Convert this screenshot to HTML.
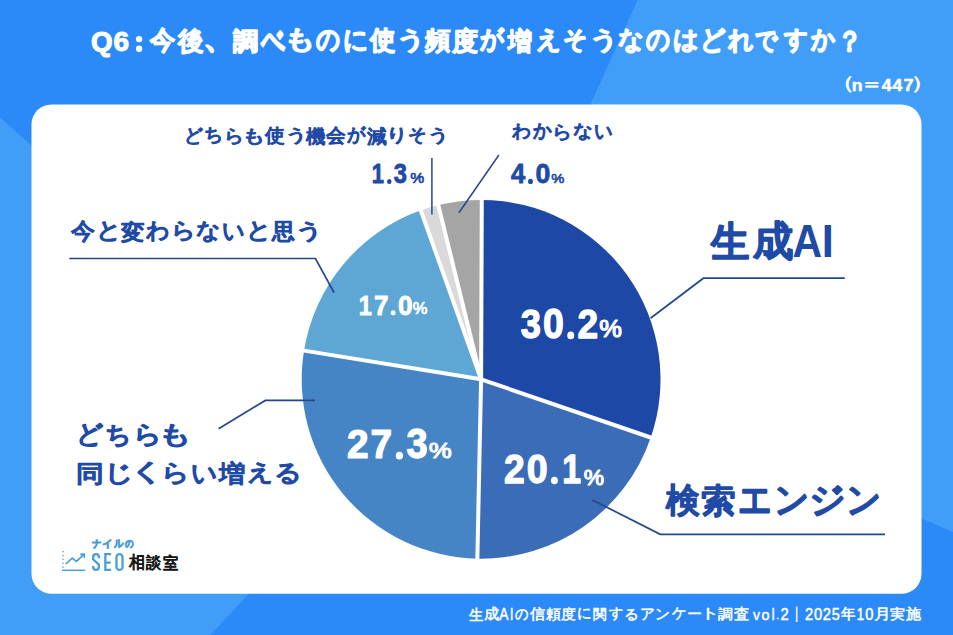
<!DOCTYPE html>
<html><head><meta charset="utf-8">
<style>
html,body{margin:0;padding:0;width:953px;height:635px;overflow:hidden;background:#409ef9;}
svg{display:block;font-family:"Liberation Sans",sans-serif;}
</style></head><body>
<svg width="953" height="635" viewBox="0 0 953 635">
<rect x="0" y="0" width="953" height="635" fill="#409ef9"/>
<polygon points="0,0 637.5,0 417.4,489 0,117.5" fill="#2c8af8"/>
<polygon points="492.5,332.5 953,531.9 953,635 210.2,635" fill="#2c8af8"/>
<rect x="31.5" y="104.5" width="890" height="489.3" rx="20" ry="20" fill="#fff"/>
<path d="M481.1,379.3 L481.79,199.90 A179.4,179.4 0 0 1 650.79,437.53 Z" fill="#1e48a6"/>
<path d="M481.1,379.3 L650.79,437.53 A179.4,179.4 0 0 1 477.34,558.66 Z" fill="#3b6cb8"/>
<path d="M481.1,379.3 L477.34,558.66 A179.4,179.4 0 0 1 304.01,350.62 Z" fill="#4685c5"/>
<path d="M481.1,379.3 L304.01,350.62 A179.4,179.4 0 0 1 420.77,210.35 Z" fill="#5ea6d4"/>
<path d="M481.1,379.3 L420.77,210.35 A179.4,179.4 0 0 1 438.31,205.08 Z" fill="#d9d9d9"/>
<path d="M481.1,379.3 L438.31,205.08 A179.4,179.4 0 0 1 481.79,199.90 Z" fill="#a5a5a5"/>
<line x1="481.1" y1="379.3" x2="481.80" y2="196.90" stroke="#fff" stroke-width="4"/>
<line x1="481.1" y1="379.3" x2="653.62" y2="438.50" stroke="#fff" stroke-width="4"/>
<line x1="481.1" y1="379.3" x2="477.28" y2="561.66" stroke="#fff" stroke-width="4"/>
<line x1="481.1" y1="379.3" x2="301.05" y2="350.14" stroke="#fff" stroke-width="4"/>
<line x1="481.1" y1="379.3" x2="419.76" y2="207.52" stroke="#fff" stroke-width="4"/>
<line x1="481.1" y1="379.3" x2="437.59" y2="202.17" stroke="#fff" stroke-width="4"/>
<line x1="431.9" y1="158" x2="431.9" y2="214.4" stroke="#25478f" stroke-width="1.5"/>
<line x1="498.9" y1="155" x2="458.9" y2="212.8" stroke="#25478f" stroke-width="1.5"/>
<polyline points="69.3,258.5 315.5,258.5 334,292.5" fill="none" stroke="#25478f" stroke-width="1.7"/>
<polyline points="844.8,278.2 703.4,278.2 650.5,318.2" fill="none" stroke="#25478f" stroke-width="1.7"/>
<polyline points="218.6,428.7 265.4,400.4 315,400.4" fill="none" stroke="#25478f" stroke-width="1.7"/>
<polyline points="592.4,500 660.3,534.3 885,534.3" fill="none" stroke="#25478f" stroke-width="1.7"/>
<circle cx="139.1" cy="39.1" r="3.2" fill="#fff"/><circle cx="139.1" cy="48.8" r="3.2" fill="#fff"/>
<g id="title_q"><text transform="matrix(0.27671,0,0,0.27155,91.00,50.99)" font-size="100" font-weight="bold" fill="#ffffff" stroke="#ffffff" stroke-width="3.88" stroke-linejoin="round">Q</text><text transform="matrix(0.27877,0,0,0.27313,113.47,51.10)" font-size="100" font-weight="bold" fill="#ffffff" stroke="#ffffff" stroke-width="3.85" stroke-linejoin="round">6</text></g>
<g id="title"><text transform="matrix(0.25681,0,0,0.26373,150.32,49.39)" font-size="100" font-weight="normal" fill="#ffffff" stroke="#ffffff" stroke-width="8.23" stroke-linejoin="round">今</text><text transform="matrix(0.25759,0,0,0.26262,177.90,49.71)" font-size="100" font-weight="normal" fill="#ffffff" stroke="#ffffff" stroke-width="8.23" stroke-linejoin="round">後</text><text transform="matrix(0.33325,0,0,0.33336,202.93,48.38)" font-size="100" font-weight="normal" fill="#ffffff" stroke="#ffffff" stroke-width="6.43" stroke-linejoin="round">、</text><text transform="matrix(0.25066,0,0,0.24847,232.82,50.22)" font-size="100" font-weight="normal" fill="#ffffff" stroke="#ffffff" stroke-width="8.58" stroke-linejoin="round">調</text><text transform="matrix(0.23753,0,0,0.35893,260.74,52.09)" font-size="100" font-weight="normal" fill="#ffffff" stroke="#ffffff" stroke-width="7.18" stroke-linejoin="round">べ</text><text transform="matrix(0.30701,0,0,0.25629,284.09,48.48)" font-size="100" font-weight="normal" fill="#ffffff" stroke="#ffffff" stroke-width="7.60" stroke-linejoin="round">も</text><text transform="matrix(0.23546,0,0,0.27836,315.82,49.49)" font-size="100" font-weight="normal" fill="#ffffff" stroke="#ffffff" stroke-width="8.34" stroke-linejoin="round">の</text><text transform="matrix(0.24802,0,0,0.27097,342.84,48.70)" font-size="100" font-weight="normal" fill="#ffffff" stroke="#ffffff" stroke-width="8.25" stroke-linejoin="round">に</text><text transform="matrix(0.25825,0,0,0.26436,370.29,49.29)" font-size="100" font-weight="normal" fill="#ffffff" stroke="#ffffff" stroke-width="8.20" stroke-linejoin="round">使</text><text transform="matrix(0.29252,0,0,0.23720,396.42,47.80)" font-size="100" font-weight="normal" fill="#ffffff" stroke="#ffffff" stroke-width="8.09" stroke-linejoin="round">う</text><text transform="matrix(0.25588,0,0,0.25239,425.09,49.03)" font-size="100" font-weight="normal" fill="#ffffff" stroke="#ffffff" stroke-width="8.43" stroke-linejoin="round">頻</text><text transform="matrix(0.25935,0,0,0.25715,452.20,50.21)" font-size="100" font-weight="normal" fill="#ffffff" stroke="#ffffff" stroke-width="8.29" stroke-linejoin="round">度</text><text transform="matrix(0.23833,0,0,0.26338,480.46,48.12)" font-size="100" font-weight="normal" fill="#ffffff" stroke="#ffffff" stroke-width="8.54" stroke-linejoin="round">が</text><text transform="matrix(0.24336,0,0,0.25258,508.01,50.08)" font-size="100" font-weight="normal" fill="#ffffff" stroke="#ffffff" stroke-width="8.64" stroke-linejoin="round">増</text><text transform="matrix(0.24849,0,0,0.25131,535.59,48.37)" font-size="100" font-weight="normal" fill="#ffffff" stroke="#ffffff" stroke-width="8.57" stroke-linejoin="round">え</text><text transform="matrix(0.23739,0,0,0.24826,562.85,48.04)" font-size="100" font-weight="normal" fill="#ffffff" stroke="#ffffff" stroke-width="8.82" stroke-linejoin="round">そ</text><text transform="matrix(0.29252,0,0,0.23720,588.74,47.80)" font-size="100" font-weight="normal" fill="#ffffff" stroke="#ffffff" stroke-width="8.09" stroke-linejoin="round">う</text><text transform="matrix(0.25281,0,0,0.24948,617.76,47.84)" font-size="100" font-weight="normal" fill="#ffffff" stroke="#ffffff" stroke-width="8.53" stroke-linejoin="round">な</text><text transform="matrix(0.23546,0,0,0.27836,645.52,49.49)" font-size="100" font-weight="normal" fill="#ffffff" stroke="#ffffff" stroke-width="8.34" stroke-linejoin="round">の</text><text transform="matrix(0.25563,0,0,0.25339,672.94,48.06)" font-size="100" font-weight="normal" fill="#ffffff" stroke="#ffffff" stroke-width="8.41" stroke-linejoin="round">は</text><text transform="matrix(0.25061,0,0,0.27018,699.73,48.85)" font-size="100" font-weight="normal" fill="#ffffff" stroke="#ffffff" stroke-width="8.22" stroke-linejoin="round">ど</text><text transform="matrix(0.24829,0,0,0.25769,727.60,48.57)" font-size="100" font-weight="normal" fill="#ffffff" stroke="#ffffff" stroke-width="8.47" stroke-linejoin="round">れ</text><text transform="matrix(0.22333,0,0,0.25198,755.38,48.73)" font-size="100" font-weight="normal" fill="#ffffff" stroke="#ffffff" stroke-width="9.01" stroke-linejoin="round">で</text><text transform="matrix(0.23140,0,0,0.24622,784.02,48.08)" font-size="100" font-weight="normal" fill="#ffffff" stroke="#ffffff" stroke-width="8.97" stroke-linejoin="round">す</text><text transform="matrix(0.24198,0,0,0.26353,810.50,48.15)" font-size="100" font-weight="normal" fill="#ffffff" stroke="#ffffff" stroke-width="8.47" stroke-linejoin="round">か</text><text transform="matrix(0.25693,0,0,0.28461,836.86,50.77)" font-size="100" font-weight="normal" fill="#ffffff" stroke="#ffffff" stroke-width="7.91" stroke-linejoin="round">？</text></g>
<g id="n447"><text transform="matrix(0.22782,0,0,0.17494,831.32,89.45)" font-size="100" font-weight="normal" fill="#ffffff" stroke="#ffffff" stroke-width="4.09" stroke-linejoin="round">（</text><text transform="matrix(0.17649,0,0,0.16630,851.64,90.95)" font-size="100" font-weight="bold" fill="#ffffff" stroke="#ffffff" stroke-width="2.88" stroke-linejoin="round">n</text><text transform="matrix(0.23793,0,0,0.18195,860.24,90.01)" font-size="100" font-weight="normal" fill="#ffffff" stroke="#ffffff" stroke-width="3.92" stroke-linejoin="round">＝</text><text transform="matrix(0.17701,0,0,0.17015,881.73,90.95)" font-size="100" font-weight="bold" fill="#ffffff" stroke="#ffffff" stroke-width="2.85" stroke-linejoin="round">4</text><text transform="matrix(0.17701,0,0,0.17015,892.61,90.95)" font-size="100" font-weight="bold" fill="#ffffff" stroke="#ffffff" stroke-width="2.85" stroke-linejoin="round">4</text><text transform="matrix(0.18281,0,0,0.17015,903.50,90.95)" font-size="100" font-weight="bold" fill="#ffffff" stroke="#ffffff" stroke-width="2.80" stroke-linejoin="round">7</text><text transform="matrix(0.22782,0,0,0.17494,911.00,89.45)" font-size="100" font-weight="normal" fill="#ffffff" stroke="#ffffff" stroke-width="4.09" stroke-linejoin="round">）</text></g>
<g id="footer"><text transform="matrix(0.14370,0,0,0.15114,468.99,619.51)" font-size="100" font-weight="normal" fill="#ffffff" stroke="#ffffff" stroke-width="3.68" stroke-linejoin="round">生</text><text transform="matrix(0.15112,0,0,0.14866,484.15,619.25)" font-size="100" font-weight="normal" fill="#ffffff" stroke="#ffffff" stroke-width="3.62" stroke-linejoin="round">成</text><text transform="matrix(0.13831,0,0,0.15924,499.35,619.65)" font-size="100" font-weight="normal" fill="#ffffff" stroke="#ffffff" stroke-width="3.12" stroke-linejoin="round">A</text><text transform="matrix(0.11943,0,0,0.15924,509.97,619.65)" font-size="100" font-weight="normal" fill="#ffffff" stroke="#ffffff" stroke-width="3.34" stroke-linejoin="round">I</text><text transform="matrix(0.13757,0,0,0.15466,514.98,618.88)" font-size="100" font-weight="normal" fill="#ffffff" stroke="#ffffff" stroke-width="3.71" stroke-linejoin="round">の</text><text transform="matrix(0.14833,0,0,0.14727,530.23,618.95)" font-size="100" font-weight="normal" fill="#ffffff" stroke="#ffffff" stroke-width="3.67" stroke-linejoin="round">信</text><text transform="matrix(0.15131,0,0,0.14214,545.87,618.62)" font-size="100" font-weight="normal" fill="#ffffff" stroke="#ffffff" stroke-width="3.70" stroke-linejoin="round">頼</text><text transform="matrix(0.15319,0,0,0.14405,561.30,619.30)" font-size="100" font-weight="normal" fill="#ffffff" stroke="#ffffff" stroke-width="3.65" stroke-linejoin="round">度</text><text transform="matrix(0.14614,0,0,0.15178,577.35,618.48)" font-size="100" font-weight="normal" fill="#ffffff" stroke="#ffffff" stroke-width="3.64" stroke-linejoin="round">に</text><text transform="matrix(0.14021,0,0,0.14357,593.41,618.99)" font-size="100" font-weight="normal" fill="#ffffff" stroke="#ffffff" stroke-width="3.82" stroke-linejoin="round">関</text><text transform="matrix(0.13818,0,0,0.13710,609.48,618.05)" font-size="100" font-weight="normal" fill="#ffffff" stroke="#ffffff" stroke-width="3.94" stroke-linejoin="round">す</text><text transform="matrix(0.15118,0,0,0.14373,623.89,618.67)" font-size="100" font-weight="normal" fill="#ffffff" stroke="#ffffff" stroke-width="3.68" stroke-linejoin="round">る</text><text transform="matrix(0.14914,0,0,0.15100,640.01,619.04)" font-size="100" font-weight="normal" fill="#ffffff" stroke="#ffffff" stroke-width="3.61" stroke-linejoin="round">ア</text><text transform="matrix(0.15122,0,0,0.15327,655.48,618.93)" font-size="100" font-weight="normal" fill="#ffffff" stroke="#ffffff" stroke-width="3.56" stroke-linejoin="round">ン</text><text transform="matrix(0.14396,0,0,0.15017,671.63,618.47)" font-size="100" font-weight="normal" fill="#ffffff" stroke="#ffffff" stroke-width="3.69" stroke-linejoin="round">ケ</text><text transform="matrix(0.14712,0,0,0.11770,686.84,618.41)" font-size="100" font-weight="normal" fill="#ffffff" stroke="#ffffff" stroke-width="4.10" stroke-linejoin="round">ー</text><text transform="matrix(0.19929,0,0,0.14380,699.93,618.38)" font-size="100" font-weight="normal" fill="#ffffff" stroke="#ffffff" stroke-width="3.16" stroke-linejoin="round">ト</text><text transform="matrix(0.14847,0,0,0.13951,718.19,619.33)" font-size="100" font-weight="normal" fill="#ffffff" stroke="#ffffff" stroke-width="3.77" stroke-linejoin="round">調</text><text transform="matrix(0.15383,0,0,0.14993,733.79,619.36)" font-size="100" font-weight="normal" fill="#ffffff" stroke="#ffffff" stroke-width="3.57" stroke-linejoin="round">査</text><text transform="matrix(0.13935,0,0,0.15281,752.95,619.65)" font-size="100" font-weight="normal" fill="#ffffff" stroke="#ffffff" stroke-width="3.18" stroke-linejoin="round">v</text><text transform="matrix(0.14360,0,0,0.15500,761.52,619.71)" font-size="100" font-weight="normal" fill="#ffffff" stroke="#ffffff" stroke-width="3.11" stroke-linejoin="round">o</text><text transform="matrix(0.12527,0,0,0.16702,771.74,619.86)" font-size="100" font-weight="normal" fill="#ffffff" stroke="#ffffff" stroke-width="3.18" stroke-linejoin="round">l</text><text transform="matrix(0.10379,0,0,0.08303,776.30,619.45)" font-size="100" font-weight="normal" fill="#ffffff" stroke="#ffffff" stroke-width="4.98" stroke-linejoin="round">.</text><text transform="matrix(0.14718,0,0,0.15979,780.38,619.65)" font-size="100" font-weight="normal" fill="#ffffff" stroke="#ffffff" stroke-width="3.03" stroke-linejoin="round">2</text><text transform="matrix(0.11215,0,0,0.14954,791.23,617.73)" font-size="100" font-weight="normal" fill="#ffffff" stroke="#ffffff" stroke-width="4.15" stroke-linejoin="round">｜</text><text transform="matrix(0.14718,0,0,0.15979,804.98,619.65)" font-size="100" font-weight="normal" fill="#ffffff" stroke="#ffffff" stroke-width="3.03" stroke-linejoin="round">2</text><text transform="matrix(0.14702,0,0,0.16065,813.98,619.71)" font-size="100" font-weight="normal" fill="#ffffff" stroke="#ffffff" stroke-width="3.02" stroke-linejoin="round">0</text><text transform="matrix(0.14718,0,0,0.15979,822.84,619.65)" font-size="100" font-weight="normal" fill="#ffffff" stroke="#ffffff" stroke-width="3.03" stroke-linejoin="round">2</text><text transform="matrix(0.14462,0,0,0.16012,831.66,619.71)" font-size="100" font-weight="normal" fill="#ffffff" stroke="#ffffff" stroke-width="3.05" stroke-linejoin="round">5</text><text transform="matrix(0.14482,0,0,0.14983,841.23,619.11)" font-size="100" font-weight="normal" fill="#ffffff" stroke="#ffffff" stroke-width="3.68" stroke-linejoin="round">年</text><text transform="matrix(0.13174,0,0,0.15924,856.78,619.65)" font-size="100" font-weight="normal" fill="#ffffff" stroke="#ffffff" stroke-width="3.20" stroke-linejoin="round">1</text><text transform="matrix(0.14702,0,0,0.16065,865.36,619.71)" font-size="100" font-weight="normal" fill="#ffffff" stroke="#ffffff" stroke-width="3.02" stroke-linejoin="round">0</text><text transform="matrix(0.16391,0,0,0.14637,873.89,619.05)" font-size="100" font-weight="normal" fill="#ffffff" stroke="#ffffff" stroke-width="3.50" stroke-linejoin="round">月</text><text transform="matrix(0.15194,0,0,0.14145,889.99,619.13)" font-size="100" font-weight="normal" fill="#ffffff" stroke="#ffffff" stroke-width="3.70" stroke-linejoin="round">実</text><text transform="matrix(0.14684,0,0,0.14570,905.79,619.09)" font-size="100" font-weight="normal" fill="#ffffff" stroke="#ffffff" stroke-width="3.71" stroke-linejoin="round">施</text></g>
<g id="l_less"><text transform="matrix(0.19053,0,0,0.19288,183.67,141.85)" font-size="100" font-weight="normal" fill="#1f4aa6" stroke="#1f4aa6" stroke-width="6.27" stroke-linejoin="round">ど</text><text transform="matrix(0.18628,0,0,0.18866,204.38,141.43)" font-size="100" font-weight="normal" fill="#1f4aa6" stroke="#1f4aa6" stroke-width="6.41" stroke-linejoin="round">ち</text><text transform="matrix(0.20076,0,0,0.18419,224.15,141.78)" font-size="100" font-weight="normal" fill="#1f4aa6" stroke="#1f4aa6" stroke-width="6.24" stroke-linejoin="round">ら</text><text transform="matrix(0.23363,0,0,0.18309,242.15,141.58)" font-size="100" font-weight="normal" fill="#1f4aa6" stroke="#1f4aa6" stroke-width="5.77" stroke-linejoin="round">も</text><text transform="matrix(0.19560,0,0,0.18856,265.44,142.15)" font-size="100" font-weight="normal" fill="#1f4aa6" stroke="#1f4aa6" stroke-width="6.25" stroke-linejoin="round">使</text><text transform="matrix(0.22379,0,0,0.16945,284.70,141.09)" font-size="100" font-weight="normal" fill="#1f4aa6" stroke="#1f4aa6" stroke-width="6.11" stroke-linejoin="round">う</text><text transform="matrix(0.19408,0,0,0.18878,306.30,142.65)" font-size="100" font-weight="normal" fill="#1f4aa6" stroke="#1f4aa6" stroke-width="6.28" stroke-linejoin="round">機</text><text transform="matrix(0.19459,0,0,0.18655,326.47,142.31)" font-size="100" font-weight="normal" fill="#1f4aa6" stroke="#1f4aa6" stroke-width="6.30" stroke-linejoin="round">会</text><text transform="matrix(0.18070,0,0,0.18795,347.13,141.33)" font-size="100" font-weight="normal" fill="#1f4aa6" stroke="#1f4aa6" stroke-width="6.52" stroke-linejoin="round">が</text><text transform="matrix(0.19414,0,0,0.18672,367.36,142.64)" font-size="100" font-weight="normal" fill="#1f4aa6" stroke="#1f4aa6" stroke-width="6.31" stroke-linejoin="round">減</text><text transform="matrix(0.21948,0,0,0.18239,386.49,141.44)" font-size="100" font-weight="normal" fill="#1f4aa6" stroke="#1f4aa6" stroke-width="5.98" stroke-linejoin="round">り</text><text transform="matrix(0.18072,0,0,0.17743,408.21,141.26)" font-size="100" font-weight="normal" fill="#1f4aa6" stroke="#1f4aa6" stroke-width="6.71" stroke-linejoin="round">そ</text><text transform="matrix(0.22379,0,0,0.16945,427.34,141.09)" font-size="100" font-weight="normal" fill="#1f4aa6" stroke="#1f4aa6" stroke-width="6.11" stroke-linejoin="round">う</text></g>
<g id="l_unk"><text transform="matrix(0.19067,0,0,0.18253,511.72,137.46)" font-size="100" font-weight="normal" fill="#1f4aa6" stroke="#1f4aa6" stroke-width="6.45" stroke-linejoin="round">わ</text><text transform="matrix(0.18489,0,0,0.18880,532.60,137.36)" font-size="100" font-weight="normal" fill="#1f4aa6" stroke="#1f4aa6" stroke-width="6.44" stroke-linejoin="round">か</text><text transform="matrix(0.20232,0,0,0.18464,552.14,137.79)" font-size="100" font-weight="normal" fill="#1f4aa6" stroke="#1f4aa6" stroke-width="6.22" stroke-linejoin="round">ら</text><text transform="matrix(0.19340,0,0,0.17860,573.33,137.13)" font-size="100" font-weight="normal" fill="#1f4aa6" stroke="#1f4aa6" stroke-width="6.47" stroke-linejoin="round">な</text><text transform="matrix(0.18462,0,0,0.19963,594.06,138.46)" font-size="100" font-weight="normal" fill="#1f4aa6" stroke="#1f4aa6" stroke-width="6.27" stroke-linejoin="round">い</text></g>
<g id="l_same"><text transform="matrix(0.23830,0,0,0.22868,71.31,238.99)" font-size="100" font-weight="normal" fill="#1f4aa6" stroke="#1f4aa6" stroke-width="6.25" stroke-linejoin="round">今</text><text transform="matrix(0.24873,0,0,0.22846,96.22,238.06)" font-size="100" font-weight="normal" fill="#1f4aa6" stroke="#1f4aa6" stroke-width="6.12" stroke-linejoin="round">と</text><text transform="matrix(0.23789,0,0,0.22297,121.12,239.74)" font-size="100" font-weight="normal" fill="#1f4aa6" stroke="#1f4aa6" stroke-width="6.34" stroke-linejoin="round">変</text><text transform="matrix(0.23173,0,0,0.22138,146.42,238.05)" font-size="100" font-weight="normal" fill="#1f4aa6" stroke="#1f4aa6" stroke-width="6.45" stroke-linejoin="round">わ</text><text transform="matrix(0.24590,0,0,0.22394,170.60,238.45)" font-size="100" font-weight="normal" fill="#1f4aa6" stroke="#1f4aa6" stroke-width="6.22" stroke-linejoin="round">ら</text><text transform="matrix(0.23505,0,0,0.21662,196.35,237.65)" font-size="100" font-weight="normal" fill="#1f4aa6" stroke="#1f4aa6" stroke-width="6.47" stroke-linejoin="round">な</text><text transform="matrix(0.22438,0,0,0.24212,221.54,239.26)" font-size="100" font-weight="normal" fill="#1f4aa6" stroke="#1f4aa6" stroke-width="6.26" stroke-linejoin="round">い</text><text transform="matrix(0.24873,0,0,0.22846,245.88,238.06)" font-size="100" font-weight="normal" fill="#1f4aa6" stroke="#1f4aa6" stroke-width="6.12" stroke-linejoin="round">と</text><text transform="matrix(0.22243,0,0,0.21530,271.78,238.94)" font-size="100" font-weight="normal" fill="#1f4aa6" stroke="#1f4aa6" stroke-width="6.67" stroke-linejoin="round">思</text><text transform="matrix(0.27412,0,0,0.20602,294.61,237.62)" font-size="100" font-weight="normal" fill="#1f4aa6" stroke="#1f4aa6" stroke-width="6.08" stroke-linejoin="round">う</text></g>
<g id="l_ai"><text transform="matrix(0.38422,0,0,0.41063,711.45,255.54)" font-size="100" font-weight="normal" fill="#1f4aa6" stroke="#1f4aa6" stroke-width="6.44" stroke-linejoin="round">生</text><text transform="matrix(0.40144,0,0,0.40776,752.73,254.84)" font-size="100" font-weight="normal" fill="#1f4aa6" stroke="#1f4aa6" stroke-width="6.32" stroke-linejoin="round">成</text><text transform="matrix(0.40935,0,0,0.45931,792.57,256.70)" font-size="100" font-weight="bold" fill="#1f4aa6">A</text><text transform="matrix(0.43478,0,0,0.45931,821.83,256.70)" font-size="100" font-weight="bold" fill="#1f4aa6">I</text></g>
<g id="l_search"><text transform="matrix(0.34087,0,0,0.34214,666.16,512.23)" font-size="100" font-weight="normal" fill="#1f4aa6" stroke="#1f4aa6" stroke-width="6.41" stroke-linejoin="round">検</text><text transform="matrix(0.34557,0,0,0.32931,701.22,511.73)" font-size="100" font-weight="normal" fill="#1f4aa6" stroke="#1f4aa6" stroke-width="6.49" stroke-linejoin="round">索</text><text transform="matrix(0.33474,0,0,0.40250,737.93,513.11)" font-size="100" font-weight="normal" fill="#1f4aa6" stroke="#1f4aa6" stroke-width="5.94" stroke-linejoin="round">エ</text><text transform="matrix(0.34757,0,0,0.36159,773.72,511.95)" font-size="100" font-weight="normal" fill="#1f4aa6" stroke="#1f4aa6" stroke-width="6.18" stroke-linejoin="round">ン</text><text transform="matrix(0.36589,0,0,0.36352,808.51,511.59)" font-size="100" font-weight="normal" fill="#1f4aa6" stroke="#1f4aa6" stroke-width="6.01" stroke-linejoin="round">ジ</text><text transform="matrix(0.34757,0,0,0.36159,845.93,511.95)" font-size="100" font-weight="normal" fill="#1f4aa6" stroke="#1f4aa6" stroke-width="6.18" stroke-linejoin="round">ン</text></g>
<g id="l_both1"><text transform="matrix(0.26704,0,0,0.25953,75.96,443.07)" font-size="100" font-weight="normal" fill="#1f4aa6" stroke="#1f4aa6" stroke-width="6.14" stroke-linejoin="round">ど</text><text transform="matrix(0.26116,0,0,0.25386,104.91,442.51)" font-size="100" font-weight="normal" fill="#1f4aa6" stroke="#1f4aa6" stroke-width="6.28" stroke-linejoin="round">ち</text><text transform="matrix(0.28152,0,0,0.24784,132.53,442.98)" font-size="100" font-weight="normal" fill="#1f4aa6" stroke="#1f4aa6" stroke-width="6.11" stroke-linejoin="round">ら</text><text transform="matrix(0.32749,0,0,0.24636,157.69,442.71)" font-size="100" font-weight="normal" fill="#1f4aa6" stroke="#1f4aa6" stroke-width="5.63" stroke-linejoin="round">も</text></g>
<g id="l_both2"><text transform="matrix(0.27972,0,0,0.24110,76.15,481.63)" font-size="100" font-weight="normal" fill="#1f4aa6" stroke="#1f4aa6" stroke-width="6.02" stroke-linejoin="round">同</text><text transform="matrix(0.29348,0,0,0.24312,103.66,480.61)" font-size="100" font-weight="normal" fill="#1f4aa6" stroke="#1f4aa6" stroke-width="5.84" stroke-linejoin="round">じ</text><text transform="matrix(0.35824,0,0,0.24146,128.77,480.45)" font-size="100" font-weight="normal" fill="#1f4aa6" stroke="#1f4aa6" stroke-width="5.23" stroke-linejoin="round">く</text><text transform="matrix(0.28057,0,0,0.24027,161.02,480.69)" font-size="100" font-weight="normal" fill="#1f4aa6" stroke="#1f4aa6" stroke-width="6.02" stroke-linejoin="round">ら</text><text transform="matrix(0.25583,0,0,0.25979,190.55,481.57)" font-size="100" font-weight="normal" fill="#1f4aa6" stroke="#1f4aa6" stroke-width="6.08" stroke-linejoin="round">い</text><text transform="matrix(0.25763,0,0,0.23500,218.80,481.91)" font-size="100" font-weight="normal" fill="#1f4aa6" stroke="#1f4aa6" stroke-width="6.36" stroke-linejoin="round">増</text><text transform="matrix(0.26398,0,0,0.23419,247.17,480.34)" font-size="100" font-weight="normal" fill="#1f4aa6" stroke="#1f4aa6" stroke-width="6.29" stroke-linejoin="round">え</text><text transform="matrix(0.27493,0,0,0.24100,274.17,481.01)" font-size="100" font-weight="normal" fill="#1f4aa6" stroke="#1f4aa6" stroke-width="6.07" stroke-linejoin="round">る</text></g>
<g id="n302"><text transform="matrix(0.36279,0,0,0.41581,520.67,338.23)" font-size="100" font-weight="bold" fill="#ffffff" stroke="#ffffff" stroke-width="3.08" stroke-linejoin="round">3</text><text transform="matrix(0.37440,0,0,0.41667,543.04,338.29)" font-size="100" font-weight="bold" fill="#ffffff" stroke="#ffffff" stroke-width="3.03" stroke-linejoin="round">0</text><ellipse cx="570.74" cy="335.46" rx="3.46" ry="3.84" fill="#ffffff"/><text transform="matrix(0.37142,0,0,0.41449,577.53,338.14)" font-size="100" font-weight="bold" fill="#ffffff" stroke="#ffffff" stroke-width="3.05" stroke-linejoin="round">2</text></g>
<g id="c302"><text transform="matrix(0.25470,0,0,0.23651,599.35,337.24)" font-size="100" font-weight="normal" fill="#ffffff" stroke="#ffffff" stroke-width="4.72" stroke-linejoin="round">%</text></g>
<g id="n273"><text transform="matrix(0.38824,0,0,0.41531,347.05,458.40)" font-size="100" font-weight="bold" fill="#ffffff" stroke="#ffffff" stroke-width="2.99" stroke-linejoin="round">2</text><text transform="matrix(0.38825,0,0,0.41393,370.61,458.40)" font-size="100" font-weight="bold" fill="#ffffff" stroke="#ffffff" stroke-width="3.00" stroke-linejoin="round">7</text><ellipse cx="399.41" cy="455.72" rx="3.61" ry="3.85" fill="#ffffff"/><text transform="matrix(0.37922,0,0,0.41664,406.58,458.49)" font-size="100" font-weight="bold" fill="#ffffff" stroke="#ffffff" stroke-width="3.02" stroke-linejoin="round">3</text></g>
<g id="c273"><text transform="matrix(0.25818,0,0,0.21791,428.69,457.70)" font-size="100" font-weight="normal" fill="#ffffff" stroke="#ffffff" stroke-width="4.49" stroke-linejoin="round">%</text></g>
<g id="n201"><text transform="matrix(0.37256,0,0,0.41256,504.11,483.20)" font-size="100" font-weight="bold" fill="#ffffff" stroke="#ffffff" stroke-width="3.04" stroke-linejoin="round">2</text><text transform="matrix(0.37555,0,0,0.41473,526.65,483.36)" font-size="100" font-weight="bold" fill="#ffffff" stroke="#ffffff" stroke-width="3.02" stroke-linejoin="round">0</text><ellipse cx="554.43" cy="480.54" rx="3.47" ry="3.82" fill="#ffffff"/><text transform="matrix(0.33733,0,0,0.41119,562.18,483.20)" font-size="100" font-weight="bold" fill="#ffffff" stroke="#ffffff" stroke-width="3.19" stroke-linejoin="round">1</text></g>
<g id="c201"><text transform="matrix(0.22842,0,0,0.21658,583.76,485.20)" font-size="100" font-weight="normal" fill="#ffffff" stroke="#ffffff" stroke-width="4.77" stroke-linejoin="round">%</text></g>
<g id="n17"><text transform="matrix(0.23533,0,0,0.27614,358.82,314.50)" font-size="100" font-weight="bold" fill="#ffffff" stroke="#ffffff" stroke-width="3.13" stroke-linejoin="round">1</text><text transform="matrix(0.25982,0,0,0.27614,373.92,314.50)" font-size="100" font-weight="bold" fill="#ffffff" stroke="#ffffff" stroke-width="2.99" stroke-linejoin="round">7</text><ellipse cx="393.19" cy="312.71" rx="2.42" ry="2.57" fill="#ffffff"/><text transform="matrix(0.26191,0,0,0.27853,398.01,314.60)" font-size="100" font-weight="bold" fill="#ffffff" stroke="#ffffff" stroke-width="2.97" stroke-linejoin="round">0</text></g>
<g id="c17"><text transform="matrix(0.16508,0,0,0.15679,412.77,314.39)" font-size="100" font-weight="normal" fill="#ffffff" stroke="#ffffff" stroke-width="4.77" stroke-linejoin="round">%</text></g>
<g id="n40"><text transform="matrix(0.25554,0,0,0.28033,510.92,183.19)" font-size="100" font-weight="bold" fill="#1f4aa6" stroke="#1f4aa6" stroke-width="3.04" stroke-linejoin="round">4</text><ellipse cx="530.51" cy="181.38" rx="2.45" ry="2.60" fill="#1f4aa6"/><text transform="matrix(0.26583,0,0,0.28275,535.40,183.30)" font-size="100" font-weight="bold" fill="#1f4aa6" stroke="#1f4aa6" stroke-width="2.97" stroke-linejoin="round">0</text></g>
<g id="c40"><text transform="matrix(0.14730,0,0,0.13420,551.16,183.17)" font-size="100" font-weight="normal" fill="#1f4aa6" stroke="#1f4aa6" stroke-width="4.67" stroke-linejoin="round">%</text></g>
<g id="n13"><text transform="matrix(0.21949,0,0,0.27196,371.71,183.31)" font-size="100" font-weight="bold" fill="#1f4aa6" stroke="#1f4aa6" stroke-width="3.21" stroke-linejoin="round">1</text><ellipse cx="389.28" cy="181.54" rx="2.26" ry="2.53" fill="#1f4aa6"/><text transform="matrix(0.23681,0,0,0.27374,393.79,183.37)" font-size="100" font-weight="bold" fill="#1f4aa6" stroke="#1f4aa6" stroke-width="3.09" stroke-linejoin="round">3</text></g>
<g id="c13"><text transform="matrix(0.15703,0,0,0.15147,410.18,183.21)" font-size="100" font-weight="normal" fill="#1f4aa6" stroke="#1f4aa6" stroke-width="4.81" stroke-linejoin="round">%</text></g>
<g id="logo1"><text transform="matrix(0.09079,0,0,0.09663,92.10,546.80)" font-size="100" font-weight="normal" fill="#4a9fd5" stroke="#4a9fd5" stroke-width="13.24" stroke-linejoin="round">ナ</text><text transform="matrix(0.10406,0,0,0.09691,102.24,546.68)" font-size="100" font-weight="normal" fill="#4a9fd5" stroke="#4a9fd5" stroke-width="12.35" stroke-linejoin="round">イ</text><text transform="matrix(0.09217,0,0,0.10783,113.51,547.28)" font-size="100" font-weight="normal" fill="#4a9fd5" stroke="#4a9fd5" stroke-width="12.41" stroke-linejoin="round">ル</text><text transform="matrix(0.08950,0,0,0.10457,124.63,547.09)" font-size="100" font-weight="normal" fill="#4a9fd5" stroke="#4a9fd5" stroke-width="12.79" stroke-linejoin="round">の</text></g>
<g id="logo3"><text transform="matrix(0.16027,0,0,0.16895,129.45,568.22)" font-size="100" font-weight="normal" fill="#151515" stroke="#151515" stroke-width="5.43" stroke-linejoin="round">相</text><text transform="matrix(0.15614,0,0,0.16275,146.21,567.84)" font-size="100" font-weight="normal" fill="#151515" stroke="#151515" stroke-width="5.61" stroke-linejoin="round">談</text><text transform="matrix(0.15115,0,0,0.16675,163.11,568.56)" font-size="100" font-weight="normal" fill="#151515" stroke="#151515" stroke-width="5.63" stroke-linejoin="round">室</text></g>
<g fill="none" stroke="#4a9fd5">
<line x1="63" y1="551" x2="63" y2="568" stroke-width="1.3" stroke-dasharray="1.3,2.6"/>
<line x1="62" y1="570.3" x2="85.3" y2="570.3" stroke-width="1.4"/>
<polyline points="65.9,564 72.2,558.1 76.4,561.4 84,554.3" stroke-width="1.7"/>
<polyline points="80.2,554.3 84.2,554.1 84.4,558.1" stroke-width="1.7"/>
</g>
<g fill="none" stroke="#4a9fd5" stroke-width="2.3">
<path d="M98.85,558.3 V557 Q98.85,554.15 96,554.15 Q93.15,554.15 93.15,557 V559.3 L98.85,564.6 V567.1 Q98.85,569.95 96,569.95 Q93.15,569.95 93.15,567.1 V566"/>
<path d="M111.1,554.15 H105.35 V569.95 H111.1 M105.35,562.7 H110.7"/>
<rect x="116.45" y="554.15" width="6.1" height="15.8" rx="3.05"/>
</g>
</svg>
</body></html>
